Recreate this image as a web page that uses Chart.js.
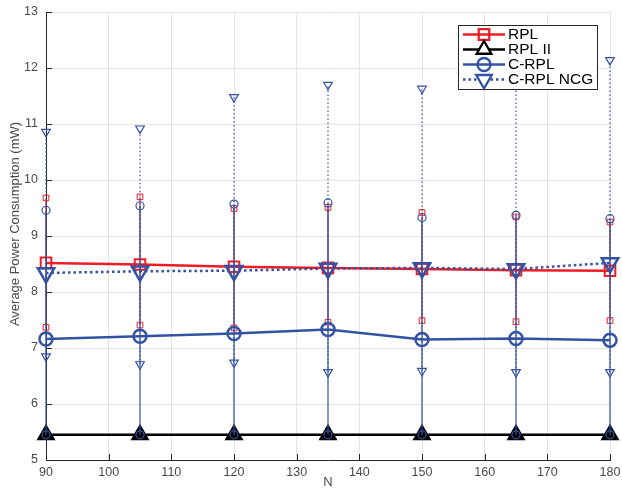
<!DOCTYPE html>
<html><head><meta charset="utf-8">
<script src="https://cdn.jsdelivr.net/npm/chart.js@4.4.1/dist/chart.umd.min.js"></script>
<style>html,body{margin:0;padding:0;background:#fff}#wrap{width:622px;height:490px}</style>
</head><body><div id="wrap"><canvas id="c" width="622" height="490"></canvas></div>
<script>
const N = [90, 105, 120, 135, 150, 165, 180];
const xTicks = [90, 100, 110, 120, 130, 140, 150, 160, 170, 180];
const yTicks = [5, 6, 7, 8, 9, 10, 11, 12, 13];
const seriesNames = ['RPL', 'RPL II', 'C-RPL', 'C-RPL NCG'];
const xTitle = 'N';
const yTitle = 'Average Power Consumption (mW)';
const rpl    = [8.52, 8.49, 8.45, 8.43, 8.41, 8.39, 8.38];
const rplHi  = [9.68, 9.70, 9.49, 9.51, 9.42, 9.34, 9.25];
const rplLo  = [7.37, 7.41, 7.36, 7.46, 7.49, 7.47, 7.49];
const rpl2   = [5.45, 5.45, 5.45, 5.45, 5.45, 5.45, 5.45];
const crpl   = [7.16, 7.21, 7.26, 7.33, 7.15, 7.17, 7.14];
const crplHi = [9.46, 9.54, 9.57, 9.59, 9.33, 9.37, 9.31];
const crplLo = [5.45, 5.45, 5.45, 5.45, 5.45, 5.45, 5.45];
const ncg    = [8.34, 8.37, 8.38, 8.42, 8.43, 8.41, 8.52];
const ncgHi  = [10.86, 10.92, 11.48, 11.70, 11.63, 12.05, 12.14];
const ncgLo  = [6.85, 6.71, 6.74, 6.57, 6.59, 6.57, 6.57];

const RED = '#ee1d25', BLUE = '#3352a4', BLACK = '#000000';
const FONT = '"Liberation Sans", Arial, sans-serif';

function pts(vals){ return N.map((x,i)=>({x, y: vals[i]})); }
function bars(lo, hi){
  const d = [];
  N.forEach((x,i)=>{ d.push({x, y: lo[i]}, {x, y: hi[i]}, {x, y: null}); });
  return d;
}

const datasets = [
  {label:'rplBars', data: bars(rplLo, rplHi), borderColor: RED, borderWidth: 1, pointStyle:'rect', pointRadius: 4, pointBorderWidth: 1, pointBorderColor: RED, pointBackgroundColor:'rgba(0,0,0,0)', order: 8},
  {label:seriesNames[0], data: pts(rpl), borderColor: RED, borderWidth: 2.5, pointStyle:'rect', pointRadius: 7.5, pointBorderWidth: 2, pointBorderColor: RED, pointBackgroundColor:'rgba(0,0,0,0)', order: 7},
  {label:seriesNames[1], data: pts(rpl2), borderColor: BLACK, borderWidth: 2.5, pointStyle:'triangle', pointRadius: 9, pointBorderWidth: 2, pointBorderColor: BLACK, pointBackgroundColor: BLACK, order: 6},
  {label:'crplBars', data: bars(crplLo, crplHi), borderColor: BLUE, borderWidth: 1.2, pointStyle:'circle', pointRadius: 4, pointBorderWidth: 1.2, pointBorderColor: BLUE, pointBackgroundColor:'rgba(0,0,0,0)', order: 5},
  {label:seriesNames[2], data: pts(crpl), borderColor: BLUE, borderWidth: 2.5, pointStyle:'circle', pointRadius: 6.5, pointBorderWidth: 2.5, pointBorderColor: BLUE, pointBackgroundColor:'rgba(0,0,0,0)', order: 4},
  {label:'ncgBars', data: bars(ncgLo, ncgHi), borderColor: BLUE, borderWidth: 1.2, borderDash:[1.5,2.5], pointStyle:'triangle', pointRotation: 180, pointRadius: 5, pointBorderWidth: 1.2, pointBorderColor: BLUE, pointBackgroundColor:'rgba(0,0,0,0)', order: 3},
  {label:seriesNames[3], data: pts(ncg), borderColor: BLUE, borderWidth: 2.5, borderDash:[2.5,3], pointStyle:'triangle', pointRotation: 180, pointRadius: 9.5, pointBorderWidth: 2.5, pointBorderColor: BLUE, pointBackgroundColor:'rgba(0,0,0,0)', order: 2}
];
datasets.forEach(d => { d.clip = false; });

function drawMarker(ctx, kind, x, y, r, color, lw, fill){
  ctx.save();
  ctx.lineWidth = lw; ctx.strokeStyle = color; ctx.setLineDash([]);
  ctx.beginPath();
  if (kind === 'rect') { const s = r*Math.SQRT1_2; ctx.rect(x-s, y-s, 2*s, 2*s); }
  else if (kind === 'circle') { ctx.arc(x, y, r, 0, Math.PI*2); }
  else if (kind === 'tri' || kind === 'triDown') {
    const sgn = kind === 'tri' ? -1 : 1;
    for (let k=0;k<3;k++){ const a = k*2*Math.PI/3; const px = x + Math.sin(a)*r, py = y + sgn*Math.cos(a)*r; if(k===0) ctx.moveTo(px,py); else ctx.lineTo(px,py);} ctx.closePath();
  }
  if (fill) { ctx.fillStyle = fill; ctx.fill(); }
  ctx.stroke();
  ctx.restore();
}

const extras = {
  id: 'extras',
  beforeDatasetsDraw(chart){
    const ctx = chart.ctx, xs = chart.scales.x, ys = chart.scales.y;
    const a = chart.chartArea;
    ctx.save();
    ctx.strokeStyle = '#262626'; ctx.lineWidth = 1;
    ctx.beginPath();
    xTicks.forEach(v=>{ const px = Math.round(xs.getPixelForValue(v))+0.5; ctx.moveTo(px, a.bottom); ctx.lineTo(px, a.bottom-6); });
    yTicks.forEach(v=>{ const py = Math.round(ys.getPixelForValue(v))+0.5; ctx.moveTo(a.left, py); ctx.lineTo(a.left+6, py); });
    ctx.stroke();
    ctx.fillStyle = '#4a4a4a';
    ctx.font = '13px ' + FONT;
    ctx.textAlign = 'center'; ctx.textBaseline = 'middle';
    ctx.translate(15.5, 224); ctx.rotate(-Math.PI/2);
    ctx.fillText(yTitle, 0, 0);
    ctx.restore();
  },
  afterDraw(chart){
    const ctx = chart.ctx;
    const bx = 458.5, by = 25.5, bw = 139, bh = 64;
    ctx.save();
    ctx.fillStyle = '#fff'; ctx.fillRect(bx, by, bw, bh);
    ctx.strokeStyle = '#262626'; ctx.lineWidth = 1; ctx.strokeRect(bx, by, bw, bh);
    const rows = [34.5, 49.5, 64.5, 79.5];
    const cols = [RED, BLACK, BLUE, BLUE];
    const kinds = ['rect','tri','circle','triDown'];
    const radii = [7.5, 8.5, 6.5, 9];
    ctx.font = '15.5px ' + FONT;
    ctx.textBaseline = 'middle';
    rows.forEach((y,i)=>{
      ctx.save();
      ctx.strokeStyle = cols[i]; ctx.lineWidth = 2.5;
      if (i===3) ctx.setLineDash([2.5,3]);
      ctx.beginPath(); ctx.moveTo(463, y); ctx.lineTo(505, y); ctx.stroke();
      ctx.restore();
      drawMarker(ctx, kinds[i], 484, y, radii[i], cols[i], 2.3, i===0||i===2 ? null : '#fff');
      ctx.fillStyle = '#000';
      ctx.fillText(seriesNames[i], 508, y+0.5);
    });
    ctx.restore();
  }
};

const tickFont = {family: FONT, size: 12.5};
new Chart(document.getElementById('c'), {
  type: 'line',
  data: { datasets },
  options: {
    responsive: false, animation: false,
    layout: { padding: { top: 12, right: 4, left: 0, bottom: 0 } },
    plugins: { legend: { display: false }, tooltip: { enabled: false } },
    elements: { line: { tension: 0 } },
    scales: {
      x: {
        type: 'linear', min: 90, max: 180,
        afterBuildTicks: s => { s.ticks = xTicks.map(v=>({value:v})); },
        ticks: { font: tickFont, color: '#4a4a4a', padding: 5, maxRotation: 0 },
        grid: { color: '#e4e4e4', drawTicks: false, lineWidth: 1 },
        border: { color: '#262626', width: 1 },
        title: { display: true, text: xTitle, font: {family: FONT, size: 13}, color: '#4a4a4a', padding: {top: 0, bottom: 0} },
        afterFit: s => { s.height = 30; s.paddingLeft = 0; s.paddingRight = 0; }
      },
      y: {
        type: 'linear', min: 5, max: 13,
        afterBuildTicks: s => { s.ticks = yTicks.map(v=>({value:v})); },
        ticks: { font: tickFont, color: '#4a4a4a', padding: 8 },
        grid: { color: '#e4e4e4', drawTicks: false, lineWidth: 1 },
        border: { color: '#262626', width: 1 },
        title: { display: false },
        afterFit: s => { s.width = 46; s.paddingTop = 0; s.paddingBottom = 0; }
      }
    }
  },
  plugins: [extras]
});
</script>
</body></html>
